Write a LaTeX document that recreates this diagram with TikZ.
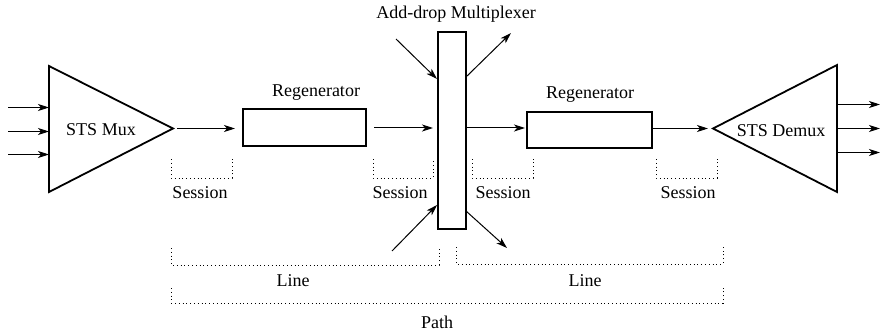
\documentclass[tikz,border=0pt]{standalone}
\usepackage{fontspec}
\setmainfont{Liberation Serif}
\usetikzlibrary{arrows.meta}
\begin{document}
\begin{tikzpicture}[x=1pt,y=-1pt,
  every node/.style={font=\fontsize{18}{20}\selectfont},
  trishape/.style={line width=1.8pt,line join=miter},
  boxnode/.style={draw,line width=1.8pt,inner sep=0pt,rectangle},
  arr/.style={line width=1pt,-{Stealth[length=11pt,width=7pt,inset=3pt]}},
  dots/.style={line width=1pt,dash pattern=on 1pt off 2.8pt},
  lbl/.style={inner sep=0pt}
]
\useasboundingbox (0,0) rectangle (880,334);
% mux triangle
\coordinate (muxtop) at (49,66);
\coordinate (muxbot) at (49,192);
\coordinate (muxtip) at (173,128.5);
\draw[trishape] (muxtop) -- (muxtip) -- (muxbot) -- cycle;
\node[lbl] (mux) at (101,130) {STS Mux};
% demux triangle
\coordinate (dmtop) at (837,65);
\coordinate (dmbot) at (837,192);
\coordinate (dmtip) at (713,128.5);
\draw[trishape] (dmtop) -- (dmtip) -- (dmbot) -- cycle;
\node[lbl] (demux) at (781,131) {STS Demux};
% boxes
\node[boxnode,minimum width=123pt,minimum height=37pt] (r1) at (304.5,127.5) {};
\node[lbl] (r1l) at (316,93) {Regenerator};
\node[boxnode,minimum width=125pt,minimum height=36pt] (r2) at (589.5,130) {};
\node[lbl] (r2l) at (590,95) {Regenerator};
\node[boxnode,minimum width=28pt,minimum height=197pt] (adm) at (452,130.5) {};
\node[lbl] (adml) at (456,14) {Add-drop Multiplexer};
% input arrows
\foreach \y/\n in {107.5/a,131.5/b,154.5/c}{
  \coordinate (in\n) at (8,\y);
  \coordinate (inE\n) at (49,\y);
  \draw[arr] (in\n) -- (inE\n);
}
% output arrows
\foreach \y/\n in {104.5/a,128.5/b,152.5/c}{
  \coordinate (out\n) at (837,\y);
  \coordinate (outE\n) at (880,\y);
  \draw[arr] (out\n) -- (outE\n);
}
% main chain
\coordinate (m1) at (177,128.5); \coordinate (m2) at (235,128.5);
\draw[arr] (m1) -- (m2);
\coordinate (m3) at (374,128); \coordinate (m4) at (433,128);
\draw[arr] (m3) -- (m4);
\coordinate (m5) at (466,128); \coordinate (m6) at (525,128);
\draw[arr] (m5) -- (m6);
\coordinate (m7) at (652,128.5); \coordinate (m8) at (708,128.5);
\draw[arr] (m7) -- (m8);
% ADM diagonals
\coordinate (d1s) at (396,39); \coordinate (d1e) at (437,79);
\draw[arr] (d1s) -- (d1e);
\coordinate (d2s) at (466,77); \coordinate (d2e) at (511,33);
\draw[arr] (d2s) -- (d2e);
\coordinate (d3s) at (392,251); \coordinate (d3e) at (437,205);
\draw[arr] (d3s) -- (d3e);
\coordinate (d4s) at (466,211); \coordinate (d4e) at (507,248);
\draw[arr] (d4s) -- (d4e);
% session brackets
\foreach \xa/\xb/\lx/\n in {171/232/200/s1,373/433/400/s2,472/533/503/s3,656/717/688/s4}{
  \draw[dots] (\xa,159) -- (\xa,178) -- (\xb,178) -- (\xb,159);
  \node[lbl] (\n) at (\lx,193) {Session};
}
% line brackets
\draw[dots] (171,248) -- (171,265) -- (439,265) -- (439,248);
\node[lbl] (line1) at (293,281) {Line};
\draw[dots] (456,247) -- (456,264) -- (723,264) -- (723,247);
\node[lbl] (line2) at (585,281) {Line};
\draw[dots] (171,288) -- (171,303) -- (723,303) -- (723,288);
\node[lbl] (path) at (437,322) {Path};
\end{tikzpicture}
\end{document}
